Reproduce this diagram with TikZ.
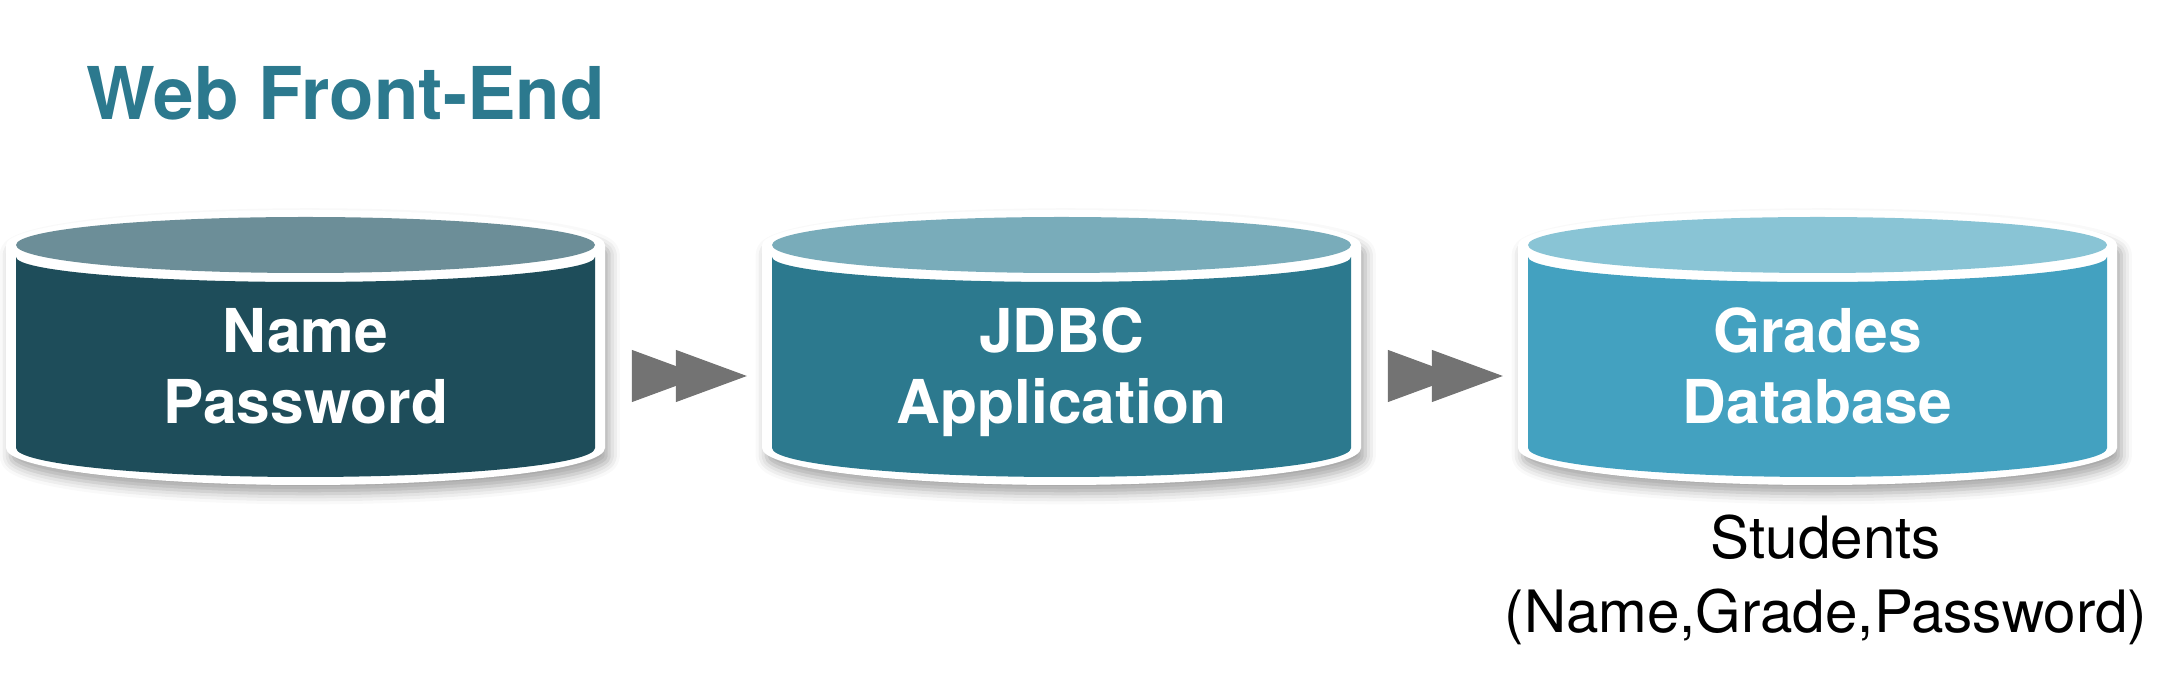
\documentclass[tikz,border=0pt]{standalone}
\usepackage{fontspec}
\setmainfont{TeX Gyre Heros}
\usetikzlibrary{arrows.meta,shadows.blur}
\definecolor{deep}{HTML}{1E4D5A}
\definecolor{deeplt}{HTML}{6C8E98}
\definecolor{mid}{HTML}{2C798E}
\definecolor{midlt}{HTML}{79ACBA}
\definecolor{sky}{HTML}{43A1C0}
\definecolor{skylt}{HTML}{89C4D5}
\definecolor{arr}{HTML}{737373}
\tikzset{
  rim/.style={fill=white,blur shadow={shadow xshift=1.2pt,shadow yshift=-2.5pt,shadow blur radius=3pt,shadow opacity=35}},
  db/.style={minimum width=5.79cm,minimum height=1.9cm,inner sep=0pt,outer sep=0pt,align=center,text=white,font=\bfseries\fontsize{17.2}{20.2}\selectfont,execute at end node={\vphantom{p}}},
  ar/.style={draw=arr,fill=arr,line width=0.3pt,shorten <=0.37cm,shorten >=0.25cm,-{Triangle[length=0.71cm,width=0.52cm,sep=-0.27cm]Triangle[length=0.71cm,width=0.52cm]}},
}

\begin{document}
\begin{tikzpicture}[x=0.01cm,y=0.01cm]
  \useasboundingbox (0,0) rectangle (2182,676);
  \node[anchor=base west,inner sep=0pt,text=mid,font=\bfseries\fontsize{20.7}{24}\selectfont] (title) at (86,556) {Web Front-End};
  % name / password
  \fill[rim] (6,431) arc[start angle=180,end angle=0,x radius=299.5,y radius=35] -- (605,228) arc[start angle=0,end angle=-180,x radius=299.5,y radius=37] -- cycle;
  \fill[deep] (16,419) -- (16,228) arc[start angle=180,end angle=360,x radius=289.5,y radius=29] -- (595,419) arc[start angle=0,end angle=-180,x radius=289.5,y radius=25] -- cycle;
  \fill[deeplt] (305.5,431) ellipse[x radius=289.5,y radius=28];
  \node[db] (front) at (305.5,303.4) {Name\\Password};
  % jdbc
  \fill[rim] (762,431) arc[start angle=180,end angle=0,x radius=299.5,y radius=35] -- (1361,228) arc[start angle=0,end angle=-180,x radius=299.5,y radius=37] -- cycle;
  \fill[mid] (772,419) -- (772,228) arc[start angle=180,end angle=360,x radius=289.5,y radius=29] -- (1351,419) arc[start angle=0,end angle=-180,x radius=289.5,y radius=25] -- cycle;
  \fill[midlt] (1061.5,431) ellipse[x radius=289.5,y radius=28];
  \node[db] (jdbc) at (1061.5,303.4) {JDBC\\Application};
  % grades db
  \fill[rim] (1518,431) arc[start angle=180,end angle=0,x radius=299.5,y radius=35] -- (2117,228) arc[start angle=0,end angle=-180,x radius=299.5,y radius=37] -- cycle;
  \fill[sky] (1528,419) -- (1528,228) arc[start angle=180,end angle=360,x radius=289.5,y radius=29] -- (2107,419) arc[start angle=0,end angle=-180,x radius=289.5,y radius=25] -- cycle;
  \fill[skylt] (1817.5,431) ellipse[x radius=289.5,y radius=28];
  \node[db] (grades) at (1817.5,303.4) {Grades\\Database};
  \node[align=center,font=\fontsize{16.6}{21}\selectfont] (tbl) at (1826,96) {Students\\(Name,Grade,Password)};
  \draw[ar] ([yshift=-0.034cm]front.east) -- ([yshift=-0.034cm]jdbc.west);
  \draw[ar] ([yshift=-0.034cm]jdbc.east) -- ([yshift=-0.034cm]grades.west);
\end{tikzpicture}
\end{document}
